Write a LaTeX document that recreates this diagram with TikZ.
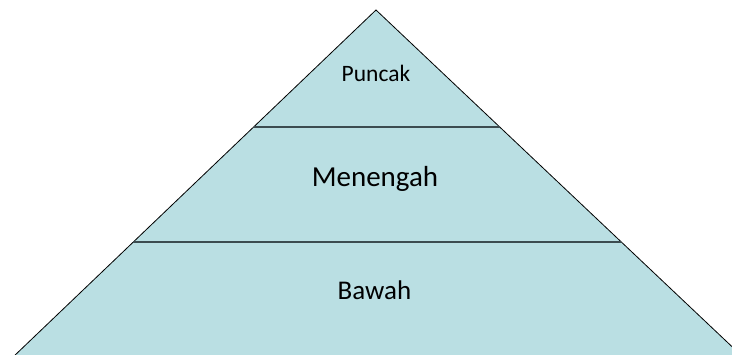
\documentclass[tikz,border=0pt]{standalone}
\usepackage{fontspec}
\setmainfont{Carlito}
\usetikzlibrary{calc}
\definecolor{pyrfill}{RGB}{186,223,227}
\definecolor{tierline}{RGB}{60,76,80}
\tikzset{
  pyr/.style ={fill=pyrfill, draw=black, line width=0.8pt, line join=miter},
  tier/.style={draw=tierline, line width=1.6pt},
  lbl/.style ={anchor=base, inner sep=0pt, text=black}
}
\begin{document}
\begin{tikzpicture}[x=1pt, y=-1pt]
\useasboundingbox (0,0) rectangle (732,355);
\clip (0,0) rectangle (732,355);
% corners of the pyramid
\coordinate (apex) at (376,10);
\coordinate (bl) at (12,358);
\coordinate (br) at (744,358);
\draw[pyr] (apex) -- (br) -- (bl) -- cycle;
% tier borders
\coordinate (t1l) at ($(apex)!0.3362!(bl)$);
\coordinate (t1r) at ($(apex)!0.3362!(br)$);
\coordinate (t2l) at ($(apex)!0.6667!(bl)$);
\coordinate (t2r) at ($(apex)!0.6667!(br)$);
\draw[tier] (t1l) -- (t1r);
\draw[tier] (t2l) -- (t2r);
% labels
\node[lbl, font=\fontsize{23.5}{28}\selectfont] (puncak) at (376,82) {Puncak};
\node[lbl, font=\fontsize{29}{34}\selectfont] (menengah) at (375,186.7) {Menengah};
\node[lbl, font=\fontsize{27}{32}\selectfont] (bawah) at (374.5,299.3) {Bawah};
\end{tikzpicture}
\end{document}
